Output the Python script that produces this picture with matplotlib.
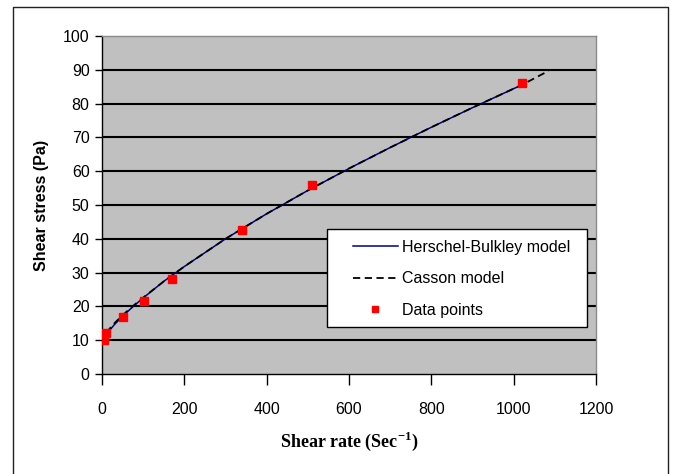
import matplotlib
matplotlib.use("Agg")
import matplotlib.pyplot as plt
from matplotlib.lines import Line2D
from matplotlib.patches import Rectangle

# Measured rheology data
shear_rate = [5.1, 10.2, 51, 102, 170, 340, 510, 1021]
shear_stress = [10.0, 12.0, 17.0, 21.5, 28.0, 42.5, 56.0, 86.0]

# Herschel-Bulkley model curve
hb_rate = [0, 5, 15, 30, 50, 75, 100, 150, 200, 300, 400, 500, 600, 700, 800, 900, 1021]
hb_stress = [9.0, 10.5, 12.4, 14.6, 17.1, 19.9, 22.5, 27.4, 31.8, 40.0, 47.4, 54.3, 60.8, 67.0, 73.0, 78.8, 85.6]

# Casson model curve
cas_rate = [0, 5, 15, 30, 50, 75, 100, 150, 200, 300, 400, 500, 600, 700, 800, 900, 1021, 1085]
cas_stress = [9.0, 11.0, 12.9, 15.0, 17.4, 20.1, 22.6, 27.4, 31.8, 40.0, 47.4, 54.3, 60.8, 67.0, 73.0, 78.8, 85.6, 89.7]

x_ticks = [0, 200, 400, 600, 800, 1000, 1200]
y_ticks = list(range(0, 101, 10))

plt.rcParams["mathtext.fontset"] = "custom"
plt.rcParams["mathtext.rm"] = "Liberation Serif:bold"
plt.rcParams["mathtext.bf"] = "Liberation Serif:bold"

fig = plt.figure(figsize=(6.78, 4.74), dpi=100)
fig.patch.set_facecolor("white")

# outer chart border
W, H = 678.0, 474.0
border_x = [13 / W, 13 / W, 668 / W, 668 / W]
border_y = [-0.05, 1 - 7 / H, 1 - 7 / H, -0.05]
fig.add_artist(Line2D(border_x, border_y, color="#222222", lw=1.0, transform=fig.transFigure))

ax = fig.add_axes([102 / W, 100 / H, 494 / W, 338 / H])
ax.set_facecolor("#C0C0C0")

ax.set_xlim(0, 1200)
ax.set_ylim(0, 100)
ax.set_xticks(x_ticks)
ax.set_yticks(y_ticks)

for y in y_ticks[1:-1]:
    ax.axhline(y, color="black", lw=1.5, zorder=1)

for side in ("top", "right"):
    ax.spines[side].set_color("#8a8a8a")
    ax.spines[side].set_linewidth(1.0)
for side in ("left", "bottom"):
    ax.spines[side].set_color("black")
    ax.spines[side].set_linewidth(1.0)

ax.tick_params(axis="both", direction="out", width=1, color="black", labelsize=11.5)
ax.tick_params(axis="y", length=5, pad=4)
ax.tick_params(axis="x", length=8, pad=12)
for lbl in ax.get_xticklabels() + ax.get_yticklabels():
    lbl.set_fontfamily("Liberation Sans")

ax.plot(hb_rate, hb_stress, color="#000080", lw=1.1, zorder=3, label="Herschel-Bulkley model")
ax.plot(cas_rate, cas_stress, color="black", lw=1.3, ls=(0, (4, 2.5)), zorder=4, label="Casson model")
ax.plot(shear_rate, shear_stress, ls="none", marker="s", ms=6, color="#FF0000",
        mec="#FF0000", zorder=5, label="Data points")

ax.set_ylabel("Shear stress (Pa)", fontfamily="Liberation Sans", fontweight="bold",
              fontsize=11.5, labelpad=10)
ax.set_xlabel(r"Shear rate (Sec$^{-1}$)", fontfamily="Liberation Serif", fontweight="bold",
              fontsize=13, labelpad=9)

# legend box frame
ax.add_patch(Rectangle((0.456, 0.139), 0.525, 0.289, transform=ax.transAxes,
                       facecolor="white", edgecolor="black", lw=1.0, zorder=9))

leg = ax.legend(loc="upper left", bbox_to_anchor=(0.508, 0.397),
                frameon=False, prop={"family": "Liberation Sans", "size": 11.5},
                handlelength=2.8, handletextpad=0.25, labelspacing=1.04,
                borderpad=0, borderaxespad=0, markerscale=0.8)
leg.set_zorder(10)

fig.savefig("out.png", dpi=100)
